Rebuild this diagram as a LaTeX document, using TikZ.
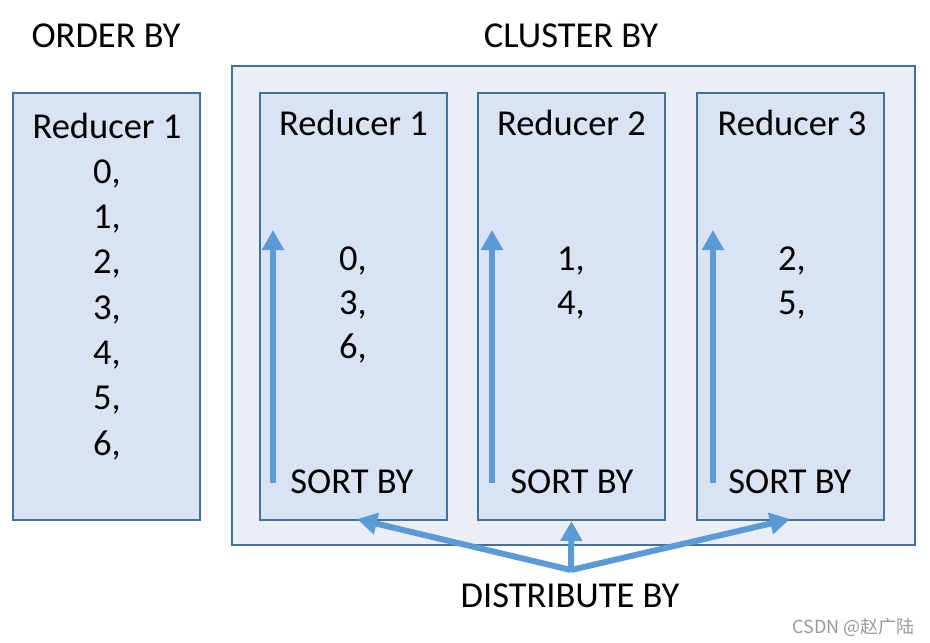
\documentclass[tikz,border=0pt]{standalone}
\usepackage{fontspec}
\setmainfont{Carlito}
\newfontfamily\cjkfont{Noto Sans CJK SC}
\usetikzlibrary{arrows.meta}
\definecolor{bordc}{HTML}{41719C}
\definecolor{redfill}{HTML}{DAE3F3}
\definecolor{outfill}{HTML}{EAEFF7}
\definecolor{arrc}{HTML}{5B9BD5}
\tikzset{
  redbox/.style={draw=bordc, line width=2pt, fill=redfill, minimum width=187pt, minimum height=427pt, inner sep=0pt},
  outbox/.style={draw=bordc, line width=2pt, fill=outfill, minimum width=683pt, minimum height=479pt, inner sep=0pt},
  txt/.style={font=\fontsize{36.5}{44}\selectfont, anchor=base, inner sep=0pt, align=center},
  arr/.style={draw=arrc, line width=6pt, -{Triangle[width=21pt,length=20pt]}},
}
\begin{document}
\begin{tikzpicture}[x=1pt,y=-1pt]
\useasboundingbox (0,0) rectangle (930,643);
% boxes
\node[redbox] (left) at (106.5,306) {};
\node[outbox] (outer) at (573.5,305.5) {};
\node[redbox] (r1) at (353.5,306.5) {};
\node[redbox] (r2) at (571.5,306.5) {};
\node[redbox] (r3) at (790.5,306.5) {};
% titles
\node[txt] (ob) at (106,47) {ORDER BY};
\node[txt] (cb) at (571,47) {CLUSTER BY};
\node[txt] (lr) at (107,138) {Reducer 1};
\node[txt, font=\fontsize{36.5}{45.3}\selectfont] (lnums) at (107,455) {0,\\1,\\2,\\3,\\4,\\5,\\6,};
\node[txt] (t1) at (353.5,135) {Reducer 1};
\node[txt] (t2) at (571.5,135) {Reducer 2};
\node[txt] (t3) at (792,135) {Reducer 3};
\node[txt] (n1) at (353,358) {0,\\3,\\6,};
\node[txt] (n2) at (571,314) {1,\\4,};
\node[txt] (n3) at (792,314) {2,\\5,};
\node[txt] (s1) at (352,493) {SORT BY};
\node[txt] (s2) at (572,493) {SORT BY};
\node[txt] (s3) at (790,493) {SORT BY};
\node[txt] (db) at (570,607) {DISTRIBUTE BY};
% sort arrows
\coordinate (a1b) at (273,483); \coordinate (a1t) at (273,230);
\coordinate (a2b) at (492,483); \coordinate (a2t) at (492,230);
\coordinate (a3b) at (713,483); \coordinate (a3t) at (713,230);
\draw[arr] (a1b) -- (a1t);
\draw[arr] (a2b) -- (a2t);
\draw[arr] (a3b) -- (a3t);
% distribute arrows
\coordinate (dj) at (571,570);
\coordinate (dl) at (357,519);
\coordinate (dr) at (790,519);
\draw[arr] (dj) -- (dl);
\draw[arr] (dj) -- (r2.south);
\draw[arr] (dj) -- (dr);
% watermark
\node[anchor=base east, inner sep=0pt, text=black!40, font=\cjkfont\fontsize{18}{20}\selectfont] (wm) at (915,633) {CSDN @赵广陆};
\end{tikzpicture}
\end{document}
